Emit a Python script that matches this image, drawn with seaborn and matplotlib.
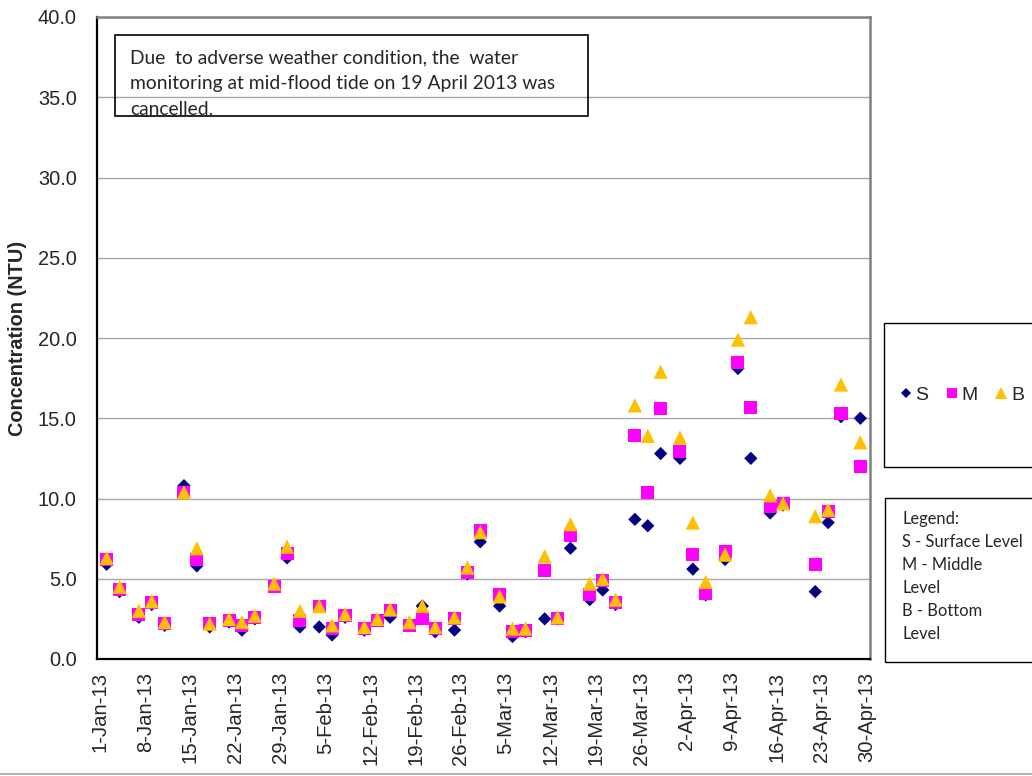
import pandas as pd
import numpy as np
import matplotlib
matplotlib.use("Agg")
import matplotlib.pyplot as plt
import matplotlib.dates as mdates
from matplotlib.patches import Rectangle
from matplotlib.lines import Line2D
import seaborn as sns

# Turbidity readings (NTU), Jan - Apr 2013 (19 Apr mid-flood cancelled)
dates = ["2013-01-02", "2013-01-04", "2013-01-07", "2013-01-09", "2013-01-11",
         "2013-01-14", "2013-01-16", "2013-01-18", "2013-01-21", "2013-01-23",
         "2013-01-25", "2013-01-28", "2013-01-30", "2013-02-01", "2013-02-04",
         "2013-02-06", "2013-02-08", "2013-02-11", "2013-02-13", "2013-02-15",
         "2013-02-18", "2013-02-20", "2013-02-22", "2013-02-25", "2013-02-27",
         "2013-03-01", "2013-03-04", "2013-03-06", "2013-03-08", "2013-03-11",
         "2013-03-13", "2013-03-15", "2013-03-18", "2013-03-20", "2013-03-22",
         "2013-03-25", "2013-03-27", "2013-03-29", "2013-04-01", "2013-04-03",
         "2013-04-05", "2013-04-08", "2013-04-10", "2013-04-12", "2013-04-15",
         "2013-04-17", "2013-04-22", "2013-04-24", "2013-04-26", "2013-04-29"]

s_level = [5.9, 4.2, 2.6, 3.4, 2.1, 10.8, 5.8, 2.0, 2.3, 1.8,
           2.5, 4.5, 6.3, 2.0, 2.0, 1.5, 2.6, 1.8, 2.4, 2.6,
           2.1, 3.3, 1.7, 1.8, 5.3, 7.3, 3.3, 1.4, 1.7, 2.5,
           2.5, 6.9, 3.7, 4.3, 3.4, 8.7, 8.3, 12.8, 12.5, 5.6,
           4.0, 6.2, 18.1, 12.5, 9.1, 9.6, 4.2, 8.5, 15.1, 15.0]
m_level = [6.2, 4.3, 2.8, 3.5, 2.2, 10.4, 6.2, 2.2, 2.4, 2.1,
           2.6, 4.5, 6.6, 2.4, 3.3, 1.9, 2.7, 1.9, 2.4, 3.0,
           2.1, 2.5, 1.9, 2.5, 5.4, 8.0, 4.0, 1.7, 1.8, 5.5,
           2.5, 7.7, 4.0, 4.9, 3.5, 13.9, 10.4, 15.6, 12.9, 6.5,
           4.1, 6.7, 18.5, 15.7, 9.5, 9.7, 5.9, 9.2, 15.3, 12.0]
b_level = [6.3, 4.5, 3.0, 3.6, 2.3, 10.4, 6.9, 2.2, 2.5, 2.3,
           2.7, 4.7, 7.0, 3.0, 3.3, 2.1, 2.8, 2.0, 2.5, 3.1,
           2.3, 3.3, 2.0, 2.6, 5.7, 7.9, 3.9, 1.9, 1.9, 6.4,
           2.6, 8.4, 4.7, 5.0, 3.7, 15.8, 13.9, 17.9, 13.8, 8.5,
           4.8, 6.5, 19.9, 21.3, 10.2, 9.7, 8.9, 9.3, 17.1, 13.5]

df = pd.DataFrame({"Date": pd.to_datetime(dates), "S": s_level,
                   "M": m_level, "B": b_level})

sns.set_style("white")
plt.rcParams["font.family"] = ["Liberation Sans", "DejaVu Sans"]

fig = plt.figure(figsize=(10.32, 7.76), dpi=100)
ax = fig.add_axes([97 / 1032, 1 - 659 / 776, 773 / 1032, 642 / 776])

ax.yaxis.grid(True, color="#a6a6a6", linewidth=1.0)
ax.set_axisbelow(True)

sns.scatterplot(data=df, x="Date", y="S", ax=ax, marker="D", s=46,
                color="#000080", edgecolor="none", label="S", zorder=3)
sns.scatterplot(data=df, x="Date", y="M", ax=ax, marker="s", s=88,
                color="#ff00ff", edgecolor="none", label="M", zorder=4)
sns.scatterplot(data=df, x="Date", y="B", ax=ax, marker="^", s=105,
                color="#ffc000", edgecolor="none", label="B", zorder=5)

ax.set_ylim(0, 40)
ax.set_yticks(np.arange(0, 40.1, 5))
ax.yaxis.set_major_formatter(matplotlib.ticker.FormatStrFormatter("%.1f"))
ax.set_xlim(pd.Timestamp("2012-12-31 12:00"), pd.Timestamp("2013-04-30 12:00"))
ax.set_xticks(pd.date_range("2013-01-01", "2013-04-30", freq="7D"))
ax.xaxis.set_major_formatter(mdates.DateFormatter("%-d-%b-%y"))
ax.tick_params(axis="x", length=0, pad=9, labelsize=14.6, rotation=90)
ax.tick_params(axis="y", length=0, pad=14.5, labelsize=14.4)
ax.set_xlabel("")
ax.set_ylabel("Concentration (NTU)", fontsize=14.3, fontweight="bold")
ax.yaxis.set_label_coords(-0.0906, 0.5)

for side in ["left", "bottom"]:
    ax.spines[side].set_color("black")
    ax.spines[side].set_linewidth(1.6)
for side in ["top", "right"]:
    ax.spines[side].set_color("#808080")
    ax.spines[side].set_linewidth(1.8)

# legend box (runs off the right edge)
ax.get_legend().remove()
fig.patches.append(Rectangle((884 / 1032, 1 - 467 / 776), 160 / 1032, 144 / 776,
                             transform=fig.transFigure, fill=False,
                             edgecolor="black", linewidth=1.0))
handles = [Line2D([], [], linestyle="none", marker="D", markersize=5.5,
                  color="#000080", markeredgewidth=0),
           Line2D([], [], linestyle="none", marker="s", markersize=7,
                  color="#ff00ff", markeredgewidth=0),
           Line2D([], [], linestyle="none", marker="^", markersize=8,
                  color="#ffc000", markeredgewidth=0)]
fig.legend(handles, ["S", "M", "B"], loc="center left",
           bbox_to_anchor=(900 / 1032, 1 - 395 / 776), ncol=3, frameon=False,
           fontsize=14, handlelength=0.6, handletextpad=0.2, columnspacing=0.9,
           borderpad=0, borderaxespad=0)

# note box for legend meaning
fig.patches.append(Rectangle((885 / 1032, 1 - 662 / 776), 160 / 1032, 164 / 776,
                             transform=fig.transFigure, fill=False,
                             edgecolor="black", linewidth=1.0))
fig.text(902 / 1032, 1 - 511 / 776,
         "Legend:\nS - Surface Level\nM - Middle\nLevel\nB - Bottom\nLevel",
         ha="left", va="top", fontsize=11.9, family=["Lato", "DejaVu Sans"],
         linespacing=1.54)

# weather note
fig.patches.append(Rectangle((115 / 1032, 1 - 116 / 776), 473 / 1032, 81 / 776,
                             transform=fig.transFigure, fill=False,
                             edgecolor="black", linewidth=1.2, zorder=5))
fig.text(130 / 1032, 1 - 49 / 776,
         "Due  to adverse weather condition, the  water\n"
         "monitoring at mid-flood tide on 19 April 2013 was\n"
         "cancelled.",
         ha="left", va="top", fontsize=13.9, family=["Lato", "DejaVu Sans"],
         linespacing=1.63)

fig.add_artist(Line2D([0, 1], [2 / 776, 2 / 776], transform=fig.transFigure,
                      color="#a6a6a6", linewidth=1.2))

fig.savefig("out.png", dpi=100)
